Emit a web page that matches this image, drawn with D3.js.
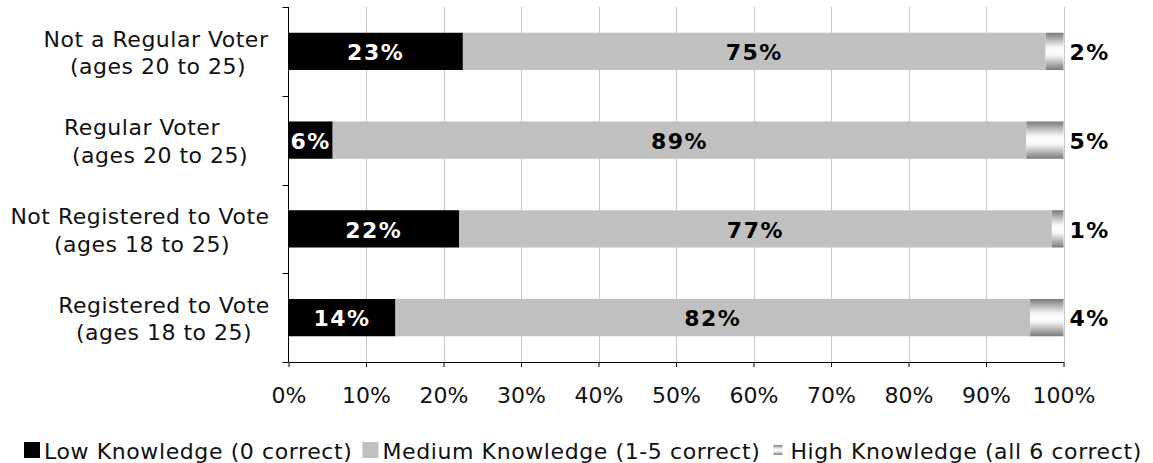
<!DOCTYPE html>
<html><head><meta charset="utf-8">
<script src="https://cdn.jsdelivr.net/npm/d3@7"></script>
<style>
html,body{margin:0;padding:0;background:#fff;}
svg{display:block;}
text{font-family:"DejaVu Sans",Verdana,sans-serif;}
</style></head>
<body>
<svg id="chart" width="1153" height="463"></svg>
<script>
// ---- data ----
const categories = [
  "Not a Regular Voter (ages 20 to 25)",
  "Regular Voter (ages 20 to 25)",
  "Not Registered to Vote (ages 18 to 25)",
  "Registered to Vote (ages 18 to 25)"
];
const categoryLines = [
  ["Not a Regular Voter", "(ages 20 to 25)"],
  ["Regular Voter", "(ages 20 to 25)"],
  ["Not Registered to Vote", "(ages 18 to 25)"],
  ["Registered to Vote", "(ages 18 to 25)"]
];
const seriesNames = ["Low Knowledge (0 correct)", "Medium Knowledge (1-5 correct)", "High Knowledge (all 6 correct)"];
const lowValues = [22.5, 5.7, 22.0, 13.8];
const mediumValues = [75.2, 89.5, 76.5, 81.9];
const highValues = [2.3, 4.8, 1.5, 4.3];
const lowLabels = ["23%", "6%", "22%", "14%"];
const mediumLabels = ["75%", "89%", "77%", "82%"];
const highLabels = ["2%", "5%", "1%", "4%"];
const tickValues = [0, 10, 20, 30, 40, 50, 60, 70, 80, 90, 100];

// ---- layout ----
const svg = d3.select("#chart");
const plot = {left: 288.5, right: 1063.5, top: 7, bottom: 362};
const FONT = 22;
const LS = "0.5px";
const LEG_LS = "0.6px";
// visible centre x of each category label line (Excel-style centred lines)
const labelCenterX = [[156, 158], [142, 160], [140, 142], [164, 164]];

const x = d3.scaleLinear().domain([0, 100]).range([plot.left, plot.right]);
const y = d3.scaleBand().domain(categories).range([plot.top, plot.bottom])
  .paddingInner(0.58).paddingOuter(0.29);

const defs = svg.append("defs");
const grad = defs.append("linearGradient").attr("id", "hiGrad")
  .attr("x1", 0).attr("y1", 0).attr("x2", 0).attr("y2", 1);
[[0, "#7a7a7a"], [0.38, "#f4f4f4"], [0.5, "#ffffff"], [0.62, "#f4f4f4"], [1, "#7a7a7a"]]
  .forEach(([o, c]) => grad.append("stop").attr("offset", o).attr("stop-color", c));

// gridlines
svg.append("g").selectAll("line").data(tickValues.filter(d => d > 0)).join("line")
  .attr("x1", d => Math.round(x(d)) + 0.5).attr("x2", d => Math.round(x(d)) + 0.5)
  .attr("y1", plot.top).attr("y2", plot.bottom)
  .attr("stroke", "#c8c8c8").attr("stroke-width", 1);

// stacked data
const rows = categories.map((c, i) => ({
  cat: c,
  segs: [
    {k: 0, x0: 0, x1: lowValues[i]},
    {k: 1, x0: lowValues[i], x1: lowValues[i] + mediumValues[i]},
    {k: 2, x0: lowValues[i] + mediumValues[i], x1: lowValues[i] + mediumValues[i] + highValues[i]}
  ]
}));
const fills = ["#000000", "#c0c0c0", "url(#hiGrad)"];

const barG = svg.append("g");
rows.forEach(r => {
  barG.selectAll(null).data(r.segs).join("rect")
    .attr("x", d => x(d.x0)).attr("width", d => x(d.x1) - x(d.x0))
    .attr("y", y(r.cat)).attr("height", y.bandwidth())
    .attr("fill", d => fills[d.k]);
});

// axes
const xAxis = svg.append("g").attr("transform", `translate(0,${plot.bottom})`)
  .call(d3.axisBottom(x).tickValues(tickValues).tickFormat(d => d + "%").tickSizeInner(5).tickSizeOuter(0).tickPadding(20));
xAxis.select(".domain").attr("stroke", "#000");
xAxis.selectAll(".tick line").attr("stroke", "#000");
xAxis.selectAll(".tick text").attr("font-size", FONT).attr("fill", "#111").attr("font-family", "DejaVu Sans");

const yTicks = d3.range(categories.length + 1).map(i => plot.top + i * y.step());
svg.append("line").attr("x1", plot.left).attr("x2", plot.left).attr("y1", plot.top).attr("y2", plot.bottom).attr("stroke", "#000");
svg.append("g").selectAll("line").data(yTicks).join("line")
  .attr("x1", plot.left - 6).attr("x2", plot.left).attr("y1", d => Math.round(d) + 0.5).attr("y2", d => Math.round(d) + 0.5)
  .attr("stroke", "#000");

// category labels
categories.forEach((c, i) => {
  const cy = y(c) + y.bandwidth() / 2;
  categoryLines[i].forEach((line, j) => {
    svg.append("text").attr("x", labelCenterX[i][j]).attr("y", cy + (j === 0 ? -12.5 : 15))
      .attr("dy", "0.35em").attr("text-anchor", "middle").attr("font-size", FONT)
      .attr("letter-spacing", LS).attr("fill", "#111")
      .text(line);
  });
});

// data labels
const lblG = svg.append("g").attr("font-weight", "bold").attr("font-size", FONT).attr("letter-spacing", "1.5px");
rows.forEach((r, i) => {
  const cy = y(r.cat) + y.bandwidth() / 2 + 1;
  const lo = r.segs[0], me = r.segs[1];
  lblG.append("text").attr("x", (x(lo.x0) + x(lo.x1)) / 2).attr("y", cy).attr("dy", "0.35em")
    .attr("text-anchor", "middle").attr("fill", "#fff").text(lowLabels[i]);
  lblG.append("text").attr("x", (x(me.x0) + x(me.x1)) / 2).attr("y", cy).attr("dy", "0.35em")
    .attr("text-anchor", "middle").attr("fill", "#000").text(mediumLabels[i]);
  lblG.append("text").attr("x", x(100) + 6).attr("y", cy).attr("dy", "0.35em")
    .attr("text-anchor", "start").attr("fill", "#000").text(highLabels[i]);
});

// legend
const leg = svg.append("g");
let lx = 24;
const ly = 451;
seriesNames.forEach((name, k) => {
  if (k < 2) {
    leg.append("rect").attr("x", lx).attr("y", ly - 9).attr("width", 16).attr("height", 16).attr("fill", fills[k]);
  } else {
    leg.append("rect").attr("x", lx + 3).attr("y", ly - 6).attr("width", 9).attr("height", 10).attr("fill", "url(#hiGrad)");
  }
  const t = leg.append("text").attr("x", lx + 20).attr("y", ly).attr("dy", "0.35em")
    .attr("font-size", FONT).attr("letter-spacing", LEG_LS).attr("fill", "#111").text(name);
  lx += 20 + t.node().getComputedTextLength() + 10;
});
</script>
</body></html>
